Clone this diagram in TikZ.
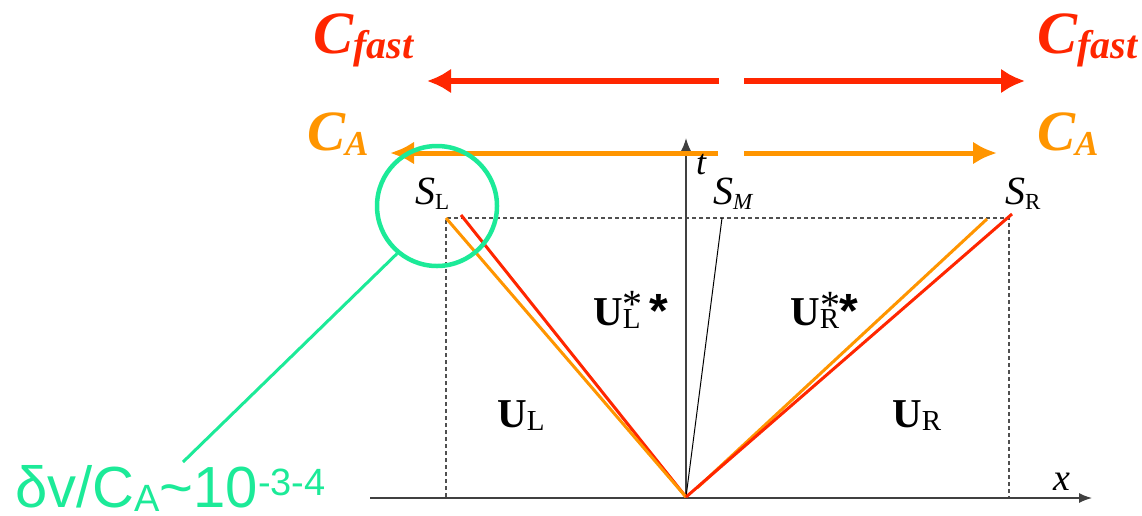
\documentclass[tikz,border=0pt]{standalone}
\usepackage{fontspec}
\setmainfont{Liberation Serif}
\newfontfamily\greenfont{Liberation Sans}
\usetikzlibrary{arrows.meta}
\definecolor{cred}{RGB}{255,38,0}
\definecolor{corange}{RGB}{255,149,0}
\definecolor{cgreen}{RGB}{28,234,152}
\definecolor{cgrid}{RGB}{80,80,80}
\newcommand{\fs}[1]{\fontsize{#1}{#1}\selectfont}
\begin{document}
\begin{tikzpicture}[x=1pt,y=-1pt,
  lbl/.style={inner sep=0pt,anchor=base west},
  starlbl/.style={inner sep=0pt,anchor=base},
  gridline/.style={draw=cgrid,line width=1.3pt,dash pattern=on 4pt off 3pt},
  axisline/.style={draw=black!75,line width=1.4pt,-{Latex[length=13pt,width=10pt]}},
  redwave/.style={draw=cred,line width=3pt},
  orangewave/.style={draw=corange,line width=3pt},
  fastarrow/.style={draw=cred,line width=5.5pt,-{Latex[length=24pt,width=25pt]}},
  aarrow/.style={draw=corange,line width=5pt,-{Latex[length=24pt,width=23pt]}},
  contact/.style={draw=black,line width=1pt}]
\useasboundingbox (0,0) rectangle (1142,515);
% coordinates
\coordinate (O) at (686,497);
\coordinate (TL) at (446,218);
\coordinate (TR) at (1009,218);
\coordinate (BL) at (446,497);
\coordinate (BR) at (1009,497);
\coordinate (xs) at (370,498);
\coordinate (xe) at (1092,498);
\coordinate (te) at (686,138);
\coordinate (SMtop) at (722,218);
\coordinate (redL) at (461,215);
\coordinate (orgL) at (446,218);
\coordinate (orgRs) at (697,488);
\coordinate (orgRe) at (987,219);
\coordinate (redR) at (1012,214);
% dashed box
\draw[gridline] (BL) -- (TL) -- (TR) -- (BR);
% axes
\draw[axisline] (xs) -- (xe);
\draw[axisline] (O) -- (te);
% contact discontinuity
\draw[contact] (O) -- (SMtop);
% wave fronts
\draw[redwave] (O) -- (redL);
\draw[orangewave] (O) -- (orgL);
\draw[orangewave] (orgRs) -- (orgRe);
\draw[redwave] (O) -- (redR);
% speed arrows
\coordinate (fL0) at (719,81); \coordinate (fL1) at (427,81);
\coordinate (fR0) at (744,81); \coordinate (fR1) at (1025,81);
\coordinate (aL0) at (718,153); \coordinate (aL1) at (390,153);
\coordinate (aR0) at (744,153); \coordinate (aR1) at (997,153);
\draw[fastarrow] (fL0) -- (fL1);
\draw[fastarrow] (fR0) -- (fR1);
\draw[aarrow] (aL0) -- (aL1);
\draw[aarrow] (aR0) -- (aR1);
% speed labels
\node[lbl,text=cred] (cfL) at (313,53) {\fs{60}\bfseries\itshape C\raisebox{-5pt}{\fs{40}fast}};
\node[lbl,text=cred] (cfR) at (1037,53) {\fs{60}\bfseries\itshape C\raisebox{-5pt}{\fs{40}fast}};
\node[lbl,text=corange] (caL) at (307,150) {\fs{57}\bfseries\itshape C\raisebox{-5pt}{\fs{35}A}};
\node[lbl,text=corange] (caR) at (1037,150) {\fs{57}\bfseries\itshape C\raisebox{-5pt}{\fs{35}A}};
% state labels
\node[lbl] (SL) at (415,204) {\fs{40}\itshape S\raisebox{-5pt}{\fs{23}\upshape L}};
\node[lbl] (SM) at (713,204) {\fs{40}\itshape S\raisebox{-5pt}{\fs{23}M}};
\node[lbl] (SR) at (1005,204) {\fs{40}\itshape S\raisebox{-5pt}{\fs{23}\upshape R}};
\node[lbl] (tlab) at (696,174) {\fs{36}\itshape t};
\node[lbl] (xlab) at (1053,490) {\fs{38}\itshape x};
\node[lbl] (ULs) at (593,325) {\fs{41}\bfseries U\raisebox{-3pt}{\fs{29}\mdseries L}};
\node[starlbl] (ULs1) at (632,317) {\fs{40}*};
\node[starlbl] (ULs2) at (659,327) {\greenfont\bfseries\fs{48}*};
\node[lbl] (URs) at (790,325) {\fs{41}\bfseries U\raisebox{-3pt}{\fs{29}\mdseries R}};
\node[starlbl] (URs1) at (830,318) {\fs{40}*};
\node[starlbl] (URs2) at (849,327) {\greenfont\bfseries\fs{48}*};
\node[lbl] (UL) at (497,427) {\fs{41}\bfseries U\raisebox{-3pt}{\fs{29}\mdseries L}};
\node[lbl] (UR) at (892,427) {\fs{41}\bfseries U\raisebox{-3pt}{\fs{29}\mdseries R}};
% green highlight
\node[circle,draw=cgreen,line width=4.5pt,minimum size=120pt,inner sep=0pt] (circ) at (437,206) {};
\coordinate (gend) at (183,462);
\draw[cgreen,line width=3pt] (circ.230) -- (gend);
\node[lbl,text=cgreen] (glab) at (15,507) {\greenfont\fs{58}δv/C\raisebox{-4pt}{\fs{38}A}\textasciitilde 10\raisebox{12pt}{\fs{38}-3-4}};
\end{tikzpicture}
\end{document}
